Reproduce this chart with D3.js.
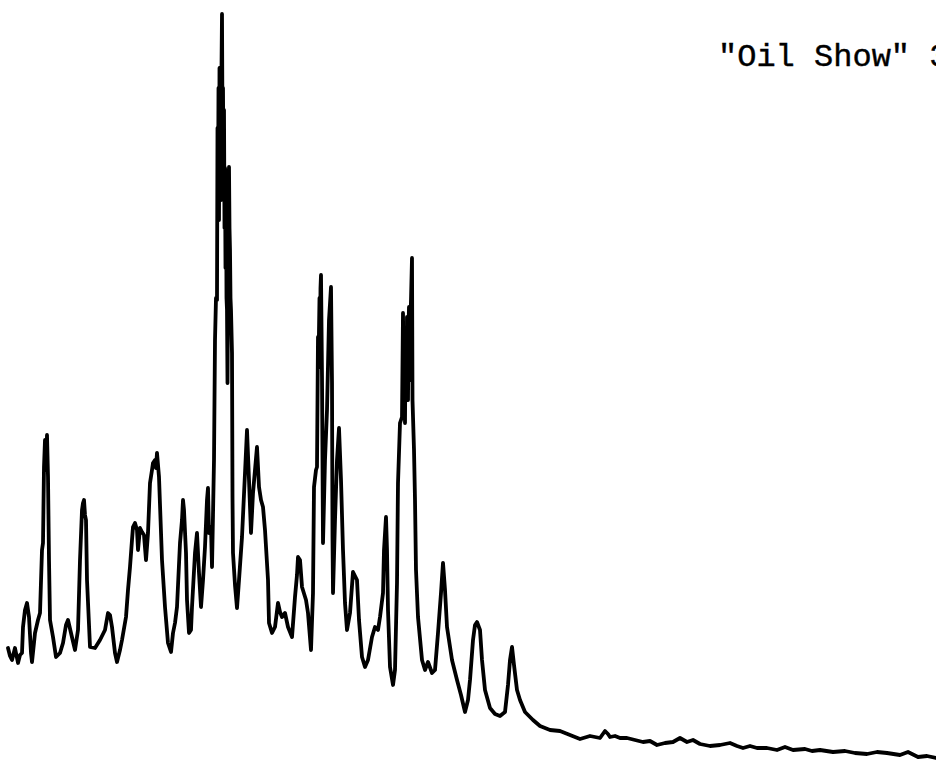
<!DOCTYPE html>
<html>
<head>
<meta charset="utf-8">
<script src="https://cdn.jsdelivr.net/npm/d3@7"></script>
<style>
  html, body { margin: 0; padding: 0; background: #fff; }
  svg { display: block; }
</style>
</head>
<body>
<div id="chart"></div>
<script>
// Chromatogram trace: retention (scan) position and detector response
const retention = [
  8,10,12,15,18,20,22,23,25,27,29,31,32,35,38,40,42,43,44,45,46,47,48,49,50,53,56,60,63,66,68,71,75,78,80,82,83,84,85,86,87,90,95,100,105,108,110,112,115,117,120,122,126,128,130,132,133,135,137,138,140,142,144,146,148,150,152,153,155,156,157,159,162,165,168,171,173,175,177,180,182,183,184,186,187,189,191,192,195,197,199,201,203,205,207,208,209,211,212,213,214,
  215,216,217,217.5,218,218.5,219,219.5,220,220.5,221,221.5,222,222.5,223,223.5,224,224.5,225,225.5,226,226.5,227,227.5,228,228.5,229,229.5,230,230.5,231,232,232.5,
  233,235,237,239,242,245,247,249,251,253,255,257,259,261,263,265,268,269,272,275,278,280,282,285,288,292,295,297,298,300,302,306,308,311,313,314,316,317,318,318.5,319,319.5,320,320.5,321,322,323,325,327,329,331,332,332.5,333,335,337,339,341,343,345,347,350,353,357,359,362,365,368,372,375,378,380,383,384,386,387,388,390,393,395,397,398,400,402,
  403,403.5,404,404.5,405,405.5,406,406.5,407,407.5,408,408.5,409,409.5,410,410.5,411,412,412.5,
  414,415,416,418,422,425,428,432,435,438,441,443,445,447,452,457,461,465,468,470,473,475,477,480,482,485,490,495,500,505,508,510,512,514,517,520,525,533,540,550,560,570,580,590,600,605,608,610,615,620,627,635,643,650,657,665,673,680,687,693,700,710,720,730,737,743,750,757,767,777,785,793,805,812,820,833,845,855,867,877,887,900,908,918,927,936
];
const response = [
  120,112,108,120,105,113,115,141,158,165,151,115,106,135,148,155,218,225,301,328,298,333,291,208,148,131,111,115,125,143,148,135,118,138,208,258,265,268,253,248,188,121,120,128,138,155,153,141,115,106,118,128,151,178,201,228,241,245,238,218,240,236,233,208,235,285,298,305,308,300,315,291,208,161,125,116,135,145,161,225,248,268,258,215,168,135,138,161,215,235,195,161,188,221,268,280,235,241,201,253,308,
  428,470,468,640,560,680,548,700,600,678,568,700,754,640,680,590,658,540,600,500,598,470,458,385,478,560,601,540,518,470,458,415,271,
  215,183,160,188,231,295,338,288,235,275,298,321,281,268,261,238,188,145,135,141,165,156,151,155,141,131,171,193,211,208,181,168,155,118,175,281,298,301,431,400,438,470,420,480,493,391,225,308,358,448,481,385,231,175,248,308,340,288,218,165,138,155,196,188,148,111,101,108,131,141,138,151,175,218,251,218,158,101,83,98,185,285,345,351,
  455,400,388,440,345,420,418,380,451,400,368,440,461,400,388,450,468,510,368,
  318,268,198,151,108,98,106,95,98,135,175,205,178,141,108,88,73,56,68,88,128,143,146,138,108,78,60,54,52,56,83,108,121,103,78,68,56,48,42,38,37,33,29,32,30,37,34,31,32,30,30,28,26,27,23,25,26,30,26,28,24,22,23,25,22,20,22,20,20,18,21,18,19,17,18,16,17,15,14,16,15,13,16,11,12,10
];
const titleText = '"Oil Show" 3';

const W = 936, H = 768;
const svg = d3.select("#chart").append("svg")
  .attr("width", W).attr("height", H)
  .attr("viewBox", `0 0 ${W} ${H}`);

const x = d3.scaleLinear().domain([0, 936]).range([0, W]);
const y = d3.scaleLinear().domain([0, 768]).range([H, 0]);

const pts = retention.map((t, i) => [t, response[i]]);

const line = d3.line()
  .x(d => x(d[0]))
  .y(d => y(d[1]))
  .curve(d3.curveLinear);

svg.append("path")
  .datum(pts)
  .attr("d", line)
  .attr("fill", "none")
  .attr("stroke", "#000")
  .attr("stroke-width", 3.8)
  .attr("stroke-linejoin", "round")
  .attr("stroke-linecap", "round");

svg.append("text")
  .attr("x", 718)
  .attr("y", 66)
  .attr("font-family", "'Courier New', 'Liberation Mono', monospace")
  .attr("font-size", 32)
  .attr("fill", "#000")
  .attr("stroke", "#000")
  .attr("stroke-width", 0.4)
  .attr("xml:space", "preserve")
  .style("white-space", "pre")
  .text(titleText);
</script>
</body>
</html>
